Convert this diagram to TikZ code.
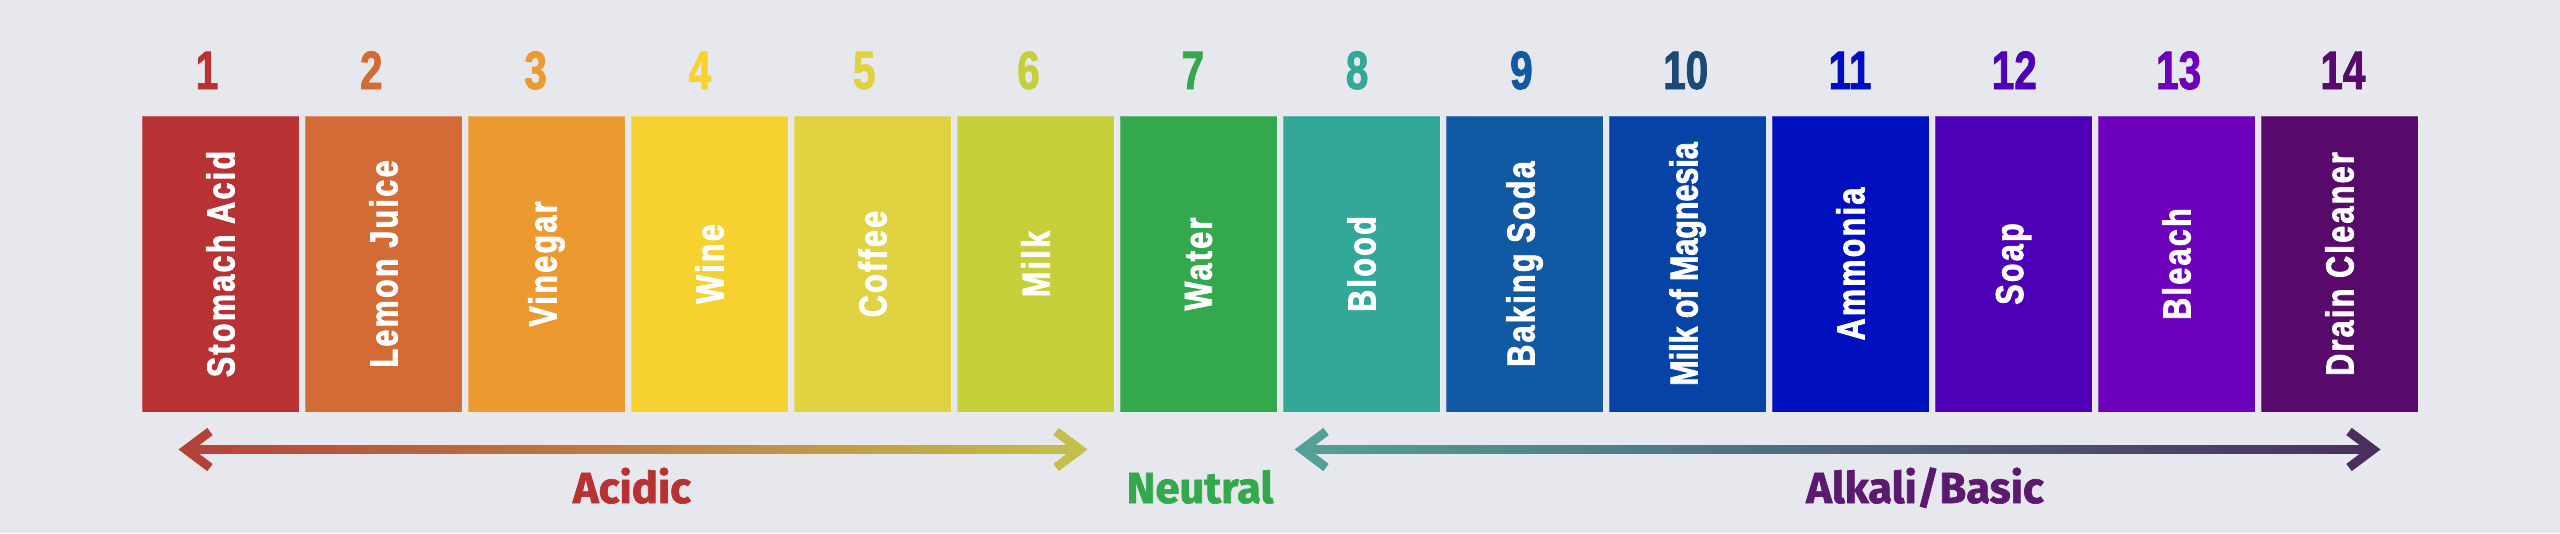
\documentclass[tikz,border=0pt]{standalone}
\usepackage{fontspec}
\setmainfont{Liberation Sans}
\newfontfamily\numfont{Liberation Sans Bold}[FakeStretch=0.75,FakeBold=1.5]
\newfontfamily\lblfont{Liberation Sans Bold}[FakeStretch=0.78,LetterSpace=6,FakeBold=2]
\newfontfamily\lbltight{Liberation Sans Bold}[FakeStretch=0.78,FakeBold=2]
\newfontfamily\catfont{Fira Sans Bold}[FakeBold=1.5]
\definecolor{bg}{HTML}{E7E8ED}
\definecolor{c1}{HTML}{B83234}
\definecolor{c2}{HTML}{D26B35}
\definecolor{c3}{HTML}{EC9A30}
\definecolor{c4}{HTML}{F5D22F}
\definecolor{c5}{HTML}{E0D240}
\definecolor{c6}{HTML}{C6CE3A}
\definecolor{c7}{HTML}{34A84D}
\definecolor{c8}{HTML}{32A898}
\definecolor{c9}{HTML}{1259A3}
\definecolor{c10}{HTML}{0643A6}
\definecolor{c11}{HTML}{0010BF}
\definecolor{c12}{HTML}{4D00B8}
\definecolor{c13}{HTML}{6C00BB}
\definecolor{c14}{HTML}{570A6B}
\definecolor{n1}{HTML}{B83234}
\definecolor{n2}{HTML}{D26B35}
\definecolor{n3}{HTML}{EC9A30}
\definecolor{n4}{HTML}{F5D22F}
\definecolor{n5}{HTML}{E0D240}
\definecolor{n6}{HTML}{C6CE3A}
\definecolor{n7}{HTML}{34A84D}
\definecolor{n8}{HTML}{32A898}
\definecolor{n9}{HTML}{1259A3}
\definecolor{n10}{HTML}{1B4A78}
\definecolor{n11}{HTML}{0010BF}
\definecolor{n12}{HTML}{4D00B8}
\definecolor{n13}{HTML}{6C00BB}
\definecolor{n14}{HTML}{570A6B}
\definecolor{acidA}{HTML}{B5423A}
\definecolor{acidB}{HTML}{C4BE4D}
\definecolor{baseA}{HTML}{52A097}
\definecolor{baseB}{HTML}{4B2E5F}
\definecolor{acidtxt}{HTML}{B83234}
\definecolor{neutxt}{HTML}{34A84D}
\definecolor{basetxt}{HTML}{5B1A70}
\begin{document}
\begin{tikzpicture}[x=1pt,y=-1pt,
  phbox/.style={rectangle,inner sep=0pt,minimum width=157pt,minimum height=296pt,draw=white,draw opacity=0.25,line width=1pt},
  lbl/.style={rotate=90,text=white,inner sep=0pt,font=\lblfont\fontsize{39}{39}\selectfont},
  lbltightstyle/.style={rotate=90,text=white,inner sep=0pt,font=\lbltight\fontsize{39}{39}\selectfont},
  num/.style={anchor=base,inner sep=0pt,font=\numfont\fontsize{54}{54}\selectfont},
  cat/.style={anchor=base,inner sep=0pt,font=\catfont\fontsize{43.5}{43.5}\selectfont},
  head/.style={line width=9pt,line cap=butt,line join=miter}]
\useasboundingbox (0,0) rectangle (2560,533);
\fill[bg] (0,0) rectangle (2560,533);
% boxes and labels
\foreach \i/\t in {1/Stomach Acid,2/Lemon Juice,3/Vinegar,4/Wine,5/Coffee,6/Milk,7/Water,8/Blood,9/Baking Soda,11/Ammonia,12/Soap,13/Bleach,14/Drain Cleaner}{
  \node[phbox,fill=c\i] (b\i) at ({220.5+163*(\i-1)},264) {};
  \node[lbl] (t\i) at (b\i) {\t};
}
\node[phbox,fill=c10] (b10) at ({220.5+163*9},264) {};
\node[lbltightstyle] (t10) at (b10) {Milk of Magnesia};
% numbers
\foreach \i in {1,...,14}{
  \node[num,text=n\i] (n\i) at ({207+164.3*(\i-1)},89) {\i};
}
% acidic arrow
\coordinate (aL) at (186,449.5);
\coordinate (aR) at (1080,449.5);
\shade[left color=acidA,right color=acidB] ([yshift=3.8pt]aL) rectangle ([yshift=-3.8pt]aR);
\draw[head,acidA] ([xshift=24pt,yshift=18pt]aL) -- (aL) -- ([xshift=24pt,yshift=-18pt]aL);
\draw[head,acidB] ([xshift=-24pt,yshift=18pt]aR) -- (aR) -- ([xshift=-24pt,yshift=-18pt]aR);
% alkali arrow
\coordinate (bL) at (1302,449.5);
\coordinate (bR) at (2373,449.5);
\shade[left color=baseA,right color=baseB] ([yshift=3.8pt]bL) rectangle ([yshift=-3.8pt]bR);
\draw[head,baseA] ([xshift=24pt,yshift=18pt]bL) -- (bL) -- ([xshift=24pt,yshift=-18pt]bL);
\draw[head,baseB] ([xshift=-24pt,yshift=18pt]bR) -- (bR) -- ([xshift=-24pt,yshift=-18pt]bR);
% category labels
\node[cat,text=acidtxt] (acid) at (632,503) {Acidic};
\node[cat,text=neutxt] (neut) at (1200,503) {Neutral};
\node[cat,text=basetxt] (base) at (1925,503) {Alkali/Basic};
\end{tikzpicture}
\end{document}
